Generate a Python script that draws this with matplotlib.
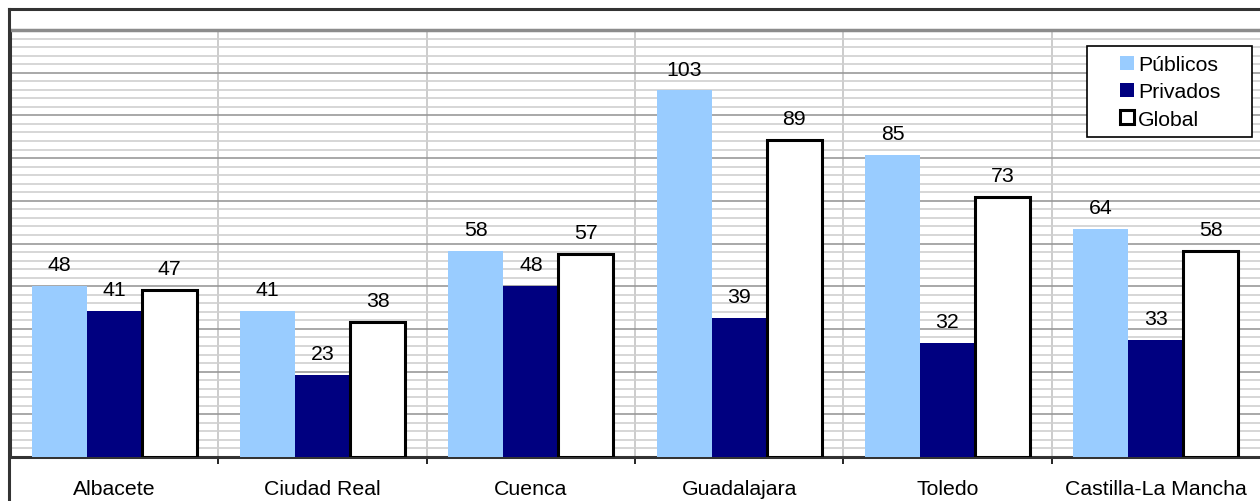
import matplotlib
matplotlib.use("Agg")
import matplotlib.pyplot as plt
import numpy as np
from matplotlib.patches import Patch, Rectangle
from matplotlib.lines import Line2D

plt.rcParams["font.family"] = ["Liberation Sans", "DejaVu Sans"]

provincias = ["Albacete", "Ciudad Real", "Cuenca", "Guadalajara", "Toledo", "Castilla-La Mancha"]
publicos = [48, 41, 58, 103, 85, 64]
privados = [41, 23, 48, 39, 32, 33]
global_ = [47, 38, 57, 89, 73, 58]

series = [
    ("Públicos", publicos, "#99ccff", "#99ccff", 0),
    ("Privados", privados, "#000080", "#000080", 0),
    ("Global", global_, "white", "black", 2.2),
]

FS = 15.3
W, H = 1260, 502
fig = plt.figure(figsize=(W / 100, H / 100), dpi=100)
ax = fig.add_axes([10 / W, (H - 458) / H, 1250 / W, 427 / H])

x = np.arange(len(provincias))
w = 0.264
for j, (name, vals, fc, ec, lw) in enumerate(series):
    pos = x + (j - 1) * w
    ax.bar(pos, vals, width=w, color=fc, edgecolor=ec, linewidth=lw, zorder=3)
    for px, v in zip(pos, vals):
        ax.annotate(str(v), (px, v), xytext=(0, 11.5), textcoords="offset points",
                    ha="center", va="baseline", fontsize=FS)

ax.set_xlim(-0.5, len(provincias) - 0.5)
ax.set_ylim(0, 120)

# horizontal grid
ax.set_yticks(np.arange(0, 121, 12))
ax.set_yticks(np.arange(0, 121, 2.4), minor=True)
ax.yaxis.grid(True, which="major", color="#999999", linewidth=1.2, zorder=0)
ax.yaxis.grid(True, which="minor", color="#d0d0d0", linewidth=1.2, zorder=0)
ax.tick_params(axis="y", which="both", length=0, labelleft=False)

# category separators
ax.set_xticks(x)
ax.set_xticklabels(provincias, fontsize=FS)
ax.set_xticks(np.arange(0.5, len(provincias) - 0.5, 1), minor=True)
ax.xaxis.grid(True, which="minor", color="#c4c4c4", linewidth=1.2, zorder=0)
ax.tick_params(axis="x", which="major", length=0, pad=16)
ax.tick_params(axis="x", which="minor", length=5, width=1.2, direction="out", color="black")

ax.spines["left"].set_color("#333333")
ax.spines["left"].set_linewidth(2.2)
ax.spines["bottom"].set_color("#333333")
ax.spines["bottom"].set_linewidth(2.2)
ax.spines["top"].set_color("#8c8c8c")
ax.spines["top"].set_linewidth(2.5)
ax.spines["right"].set_visible(False)

# outer chart frame
fig.add_artist(Line2D([9 / W, 1], [1 - 10 / H, 1 - 10 / H], color="#333333", linewidth=2.2,
                      transform=fig.transFigure))
fig.add_artist(Line2D([9 / W, 9 / W], [0, 1 - 10 / H], color="#333333", linewidth=2.2,
                      transform=fig.transFigure))

# legend
handles = [Patch(facecolor=fc, edgecolor=ec if lw else fc, linewidth=lw, label=name)
           for name, vals, fc, ec, lw in series]
fig.add_artist(Rectangle((1087 / W, 1 - 138 / H), 165 / W, 91 / H, facecolor="white",
                         edgecolor="black", linewidth=1.2, transform=fig.transFigure, zorder=5))
leg = fig.legend(handles=handles, loc="center", bbox_to_anchor=(1170 / W, 1 - 93 / H),
                 frameon=False, fontsize=FS, handlelength=0.65, handleheight=0.65,
                 handletextpad=0.2, labelspacing=0.38, borderpad=0)
leg.set_zorder(6)

fig.savefig("out.png", dpi=100, facecolor="white")
